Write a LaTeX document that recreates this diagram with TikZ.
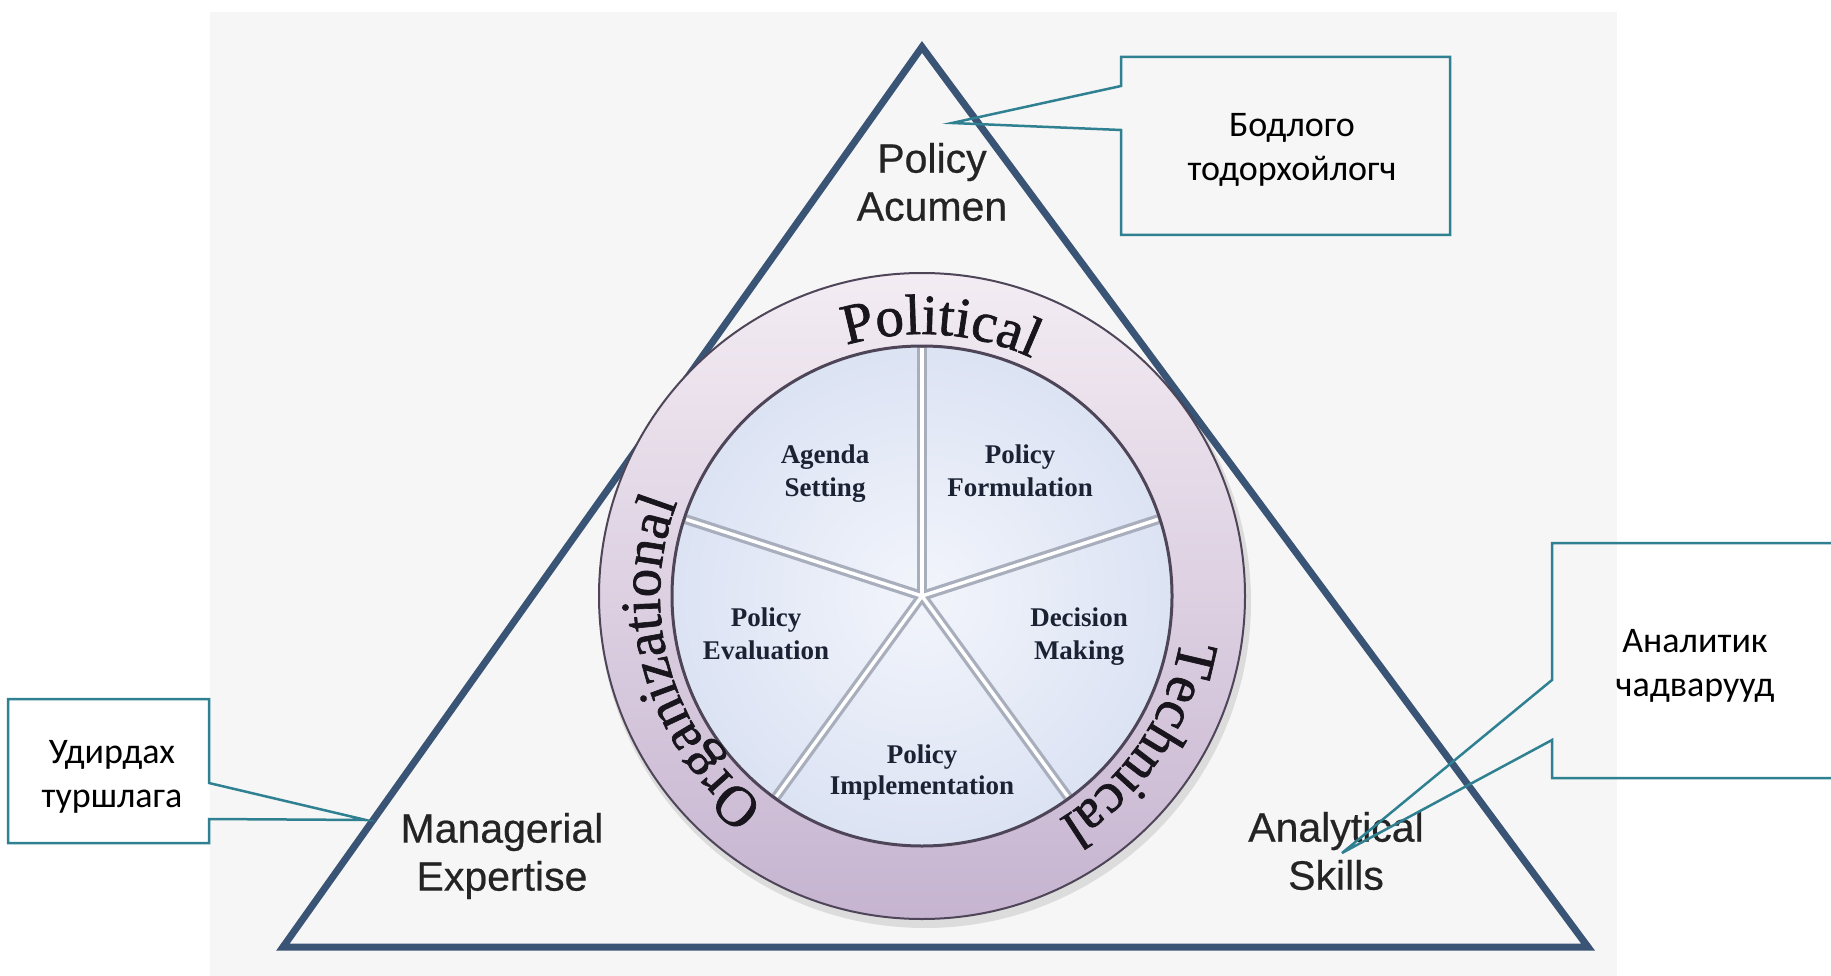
\documentclass[tikz,border=0pt]{standalone}
\usepackage{fontspec}
\setmainfont{Liberation Serif}
\newfontfamily\calfont{Carlito}
\newfontfamily\sansfont[FakeBold=0.5]{Liberation Sans}
\newfontfamily\serfont{Liberation Serif}
\newfontfamily\ringserif[FakeBold=1.2]{Liberation Serif}
\usetikzlibrary{decorations.text}
\definecolor{bgcol}{RGB}{246,246,246}
\definecolor{tricol}{RGB}{58,84,118}
\definecolor{calcol}{RGB}{47,128,145}
\definecolor{ringtop}{RGB}{243,236,243}
\definecolor{ringbot}{RGB}{198,180,208}
\definecolor{ringline}{RGB}{78,70,88}
\definecolor{spokecol}{RGB}{168,174,188}
\definecolor{ringtext}{RGB}{24,22,28}
\definecolor{pietext}{RGB}{26,34,52}
\definecolor{labcol}{RGB}{36,36,36}
\pgfdeclareradialshading{pieshade}{\pgfpoint{0bp}{0bp}}{rgb(0bp)=(0.95,0.96,0.985); rgb(28bp)=(0.85,0.88,0.95); rgb(50bp)=(0.74,0.80,0.91)}
\newcommand\ringfmt{\ringserif\fontsize{57}{57}\selectfont}
\begin{document}
\begin{tikzpicture}[x=1pt,y=1pt,
  tri/.style={draw=tricol, line width=7pt, line join=miter},
  calloutbox/.style={draw=calcol, line width=2.5pt, line join=miter},
  biglab/.style={font=\sansfont\fontsize{41}{48}\selectfont, align=center, inner sep=0pt, text=labcol},
  pielab/.style={font=\serfont\bfseries\fontsize{27}{33}\selectfont, align=center, inner sep=0pt, text=pietext},
  calltxt/.style={font=\calfont\fontsize{36}{44}\selectfont, align=center, inner sep=0pt, text=black},
  spokeA/.style={draw=spokecol, line width=10pt},
  spokeB/.style={draw=white, line width=3.5pt},
  ringtxt/.style={decorate, decoration={text along path, text align=center, text color=ringtext}}
]
\useasboundingbox (0,0) rectangle (1831,-976);
\fill[white] (0,0) rectangle (1831,-976);
\fill[bgcol] (210,-12) rectangle (1617,-976);
% triangle
\coordinate (A) at (922,-47);
\coordinate (B) at (283,-947);
\coordinate (C) at (1588,-947);
\draw[tri] (A) -- (B) -- (C) -- cycle;
% ring
\coordinate (O) at (922,-596);
\fill[black, opacity=0.10] ([shift={(3,-6)}]O) circle[radius=326];
\shade[top color=ringtop, bottom color=ringbot, even odd rule] (O) circle[radius=323] (O) circle[radius=250];
\draw[ringline, line width=2pt] (O) circle[radius=323];
% pie
\shade[shading=pieshade] (O) circle[radius=250];
\foreach \a in {90,18,-54,-126,162} {\draw[spokeA] (O) -- ++(\a:250);}
\foreach \a in {90,18,-54,-126,162} {\draw[spokeB] (O) -- ++(\a:248);}
\draw[ringline, line width=3pt] (O) circle[radius=250];
% ring texts
\path[ringtxt, decoration={text={|\ringfmt|Political}}] (O) ++(136:262) arc[start angle=136, end angle=36, radius=262];
\path[ringtxt, decoration={text={|\ringfmt|Technical}}] (O) ++(16:262) arc[start angle=16, end angle=-84, radius=262];
\path[ringtxt, decoration={text={|\ringfmt|Organizational}}] (O) ++(256:262) arc[start angle=256, end angle=136, radius=262];
% pie labels
\node[pielab] (agenda) at (825,-474) {Agenda\\Setting};
\node[pielab] (formul) at (1020,-471) {Policy\\Formulation};
\node[pielab] (evalu) at (766,-634) {Policy\\Evaluation};
\node[pielab] (decis) at (1079,-637) {Decision\\Making};
\node[pielab, font=\serfont\bfseries\fontsize{27}{31}\selectfont] (implem) at (922,-773) {Policy\\Implementation};
% corner labels
\node[biglab] (acumen) at (932,-182) {Policy\\Acumen};
\node[biglab] (manag) at (502,-856) {Managerial\\Expertise};
\node[biglab] (analyt) at (1336,-851) {Analytical\\Skills};
% callouts
\node[calltxt] (c1) at (1292,-150) {Бодлого\\тодорхойлогч};
\node[calltxt] (c2) at (112,-777) {Удирдах\\туршлага};
\node[calltxt] (c3) at (1695,-666) {Аналитик\\чадварууд};
\coordinate (p1) at (952,-123);
\coordinate (p2) at (366,-820);
\coordinate (p3) at (1342,-853);
\draw[calloutbox] (1121,-57) -- (1450,-57) -- (1450,-235) -- (1121,-235) -- (1121,-130) -- (p1) -- (1121,-86) -- cycle;
\draw[calloutbox] (8,-699) -- (209,-699) -- (209,-783) -- (p2) -- (209,-819) -- (209,-843) -- (8,-843) -- cycle;
\begin{scope}
\clip (0,0) rectangle (1831,-976);
\draw[calloutbox] (1552,-543) -- (1850,-543) -- (1850,-778) -- (1552,-778) -- (1552,-740) -- (p3) -- (1552,-680) -- cycle;
\end{scope}
\end{tikzpicture}
\end{document}
